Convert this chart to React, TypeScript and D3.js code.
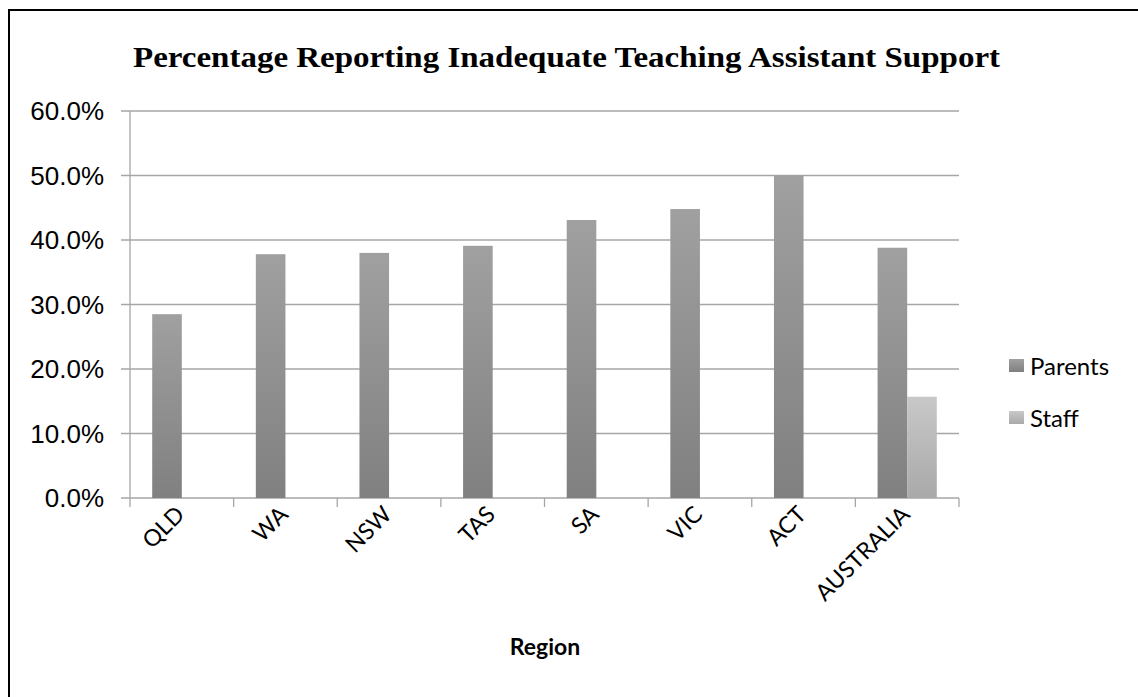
import React from "react";
import { scaleBand, scaleLinear } from "d3";

const regions = ["QLD", "WA", "NSW", "TAS", "SA", "VIC", "ACT", "AUSTRALIA"];
const seriesNames = ["Parents", "Staff"];
const parents = [0.285, 0.378, 0.38, 0.391, 0.431, 0.448, 0.5, 0.388];
const staff = [null, null, null, null, null, null, null, 0.157];
const yTicks = [0, 0.1, 0.2, 0.3, 0.4, 0.5, 0.6];

const W = 1138;
const H = 697;
const left = 130;
const right = 959;
const top = 111;
const bottom = 498;

const App = () => {
  const x = scaleBand().domain(regions).range([left, right]).paddingInner(0).paddingOuter(0);
  const bw = x.bandwidth() / 3.5;
  const y = scaleLinear().domain([0, 0.6]).range([bottom, top]);
  const grid = "#a6a6a6";
  const calibri = "Lato, 'Open Sans', sans-serif";

  const bars: { key: string; x: number; v: number; s: number }[] = [];
  regions.forEach((r, i) => {
    const c = (x(r) as number) + x.bandwidth() / 2;
    [parents[i], staff[i]].forEach((v, s) => {
      if (v == null) return;
      bars.push({ key: r + s, x: c - bw + s * bw, v, s });
    });
  });

  return (
    <svg width={W} height={H} style={{ display: "block", position: "absolute", left: 0, top: 0 }}>
      <defs>
        <linearGradient id="g0" x1="0" y1="0" x2="0" y2="1">
          <stop offset="0" stopColor="#a0a0a0" />
          <stop offset="1" stopColor="#808080" />
        </linearGradient>
        <linearGradient id="g1" x1="0" y1="0" x2="0" y2="1">
          <stop offset="0" stopColor="#c8c8c8" />
          <stop offset="1" stopColor="#a9a9a9" />
        </linearGradient>
      </defs>
      <rect x={0} y={0} width={W} height={H} fill="#fff" />
      <rect x={9} y={10} width={W + 10} height={H + 10} fill="none" stroke="#000" strokeWidth={2} />
      <text
        x={133}
        y={67}
        textLength={867}
        lengthAdjust="spacingAndGlyphs"
        fontFamily="'Liberation Serif', serif"
        fontWeight="bold"
        fontSize={30}
      >
        Percentage Reporting Inadequate Teaching Assistant Support
      </text>
      {yTicks.map((t) => (
        <g key={t}>
          <line x1={left - 9} x2={right} y1={y(t)} y2={y(t)} stroke={grid} strokeWidth={1.3} />
          <text x={104} y={y(t)} dy="0.36em" textAnchor="end" fontFamily="'Liberation Sans', Arial, sans-serif" fontSize={26}>
            {(t * 100).toFixed(1)}%
          </text>
        </g>
      ))}
      <line x1={left} x2={left} y1={top} y2={bottom} stroke={grid} strokeWidth={1.3} />
      {regions.map((r) => (
        <line key={r} x1={x(r) as number} x2={x(r) as number} y1={bottom} y2={bottom + 9} stroke={grid} strokeWidth={1.3} />
      ))}
      <line x1={right} x2={right} y1={bottom} y2={bottom + 9} stroke={grid} strokeWidth={1.3} />
      {bars.map((b) => (
        <rect key={b.key} x={b.x} y={y(b.v)} width={bw} height={bottom - y(b.v)} fill={`url(#g${b.s})`} />
      ))}
      {regions.map((r) => {
        const c = (x(r) as number) + x.bandwidth() / 2;
        return (
          <text key={r} transform={`translate(${c + 4},${bottom + 18}) rotate(-45)`} textAnchor="end" fontFamily={calibri} fontSize={23}>
            {r}
          </text>
        );
      })}
      <text x={545} y={655} textAnchor="middle" fontFamily={calibri} fontWeight="bold" fontSize={23}>
        Region
      </text>
      {seriesNames.map((n, i) => (
        <g key={n} transform={`translate(1009,${359 + i * 52})`}>
          <rect x={0} y={0} width={15} height={13} fill={`url(#g${i})`} />
          <text x={21} y={7} dy="0.36em" fontFamily={calibri} fontSize={24}>
            {n}
          </text>
        </g>
      ))}
    </svg>
  );
};

export default App;
